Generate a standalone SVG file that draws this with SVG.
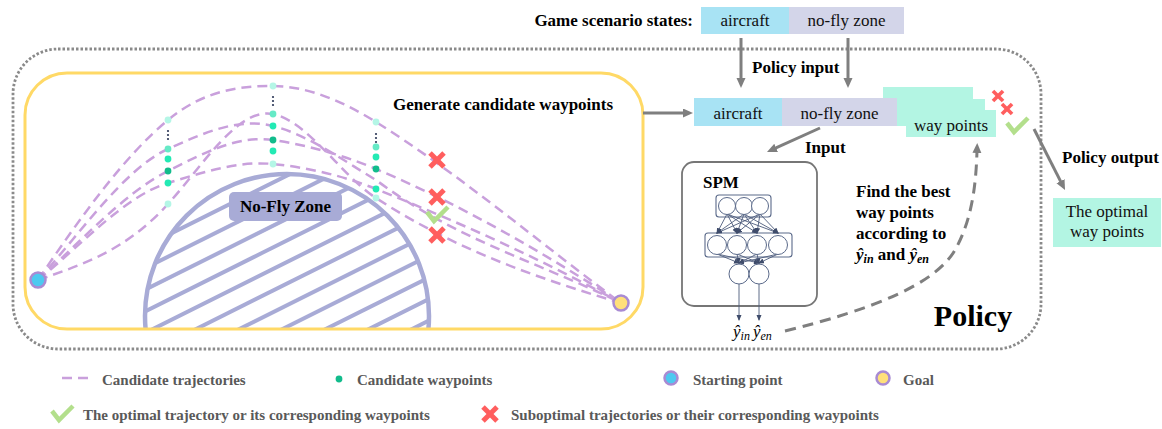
<svg xmlns="http://www.w3.org/2000/svg" width="1162" height="429" viewBox="0 0 1162 429">
  <defs>
    <style>
      text { font-family: "Liberation Serif", "Times New Roman", serif; }
      .b { font-weight: bold; }
      .lbl { font-size: 17px; fill: #000; }
      .box { font-size: 17px; fill: #111; text-anchor: middle; }
      .leg { font-size: 15px; font-weight: bold; fill: #595959; }
      .arrow { stroke: #7f7f7f; stroke-width: 3; fill: none; marker-end: url(#ah); }
      .traj { fill: none; stroke: #C9A0DC; stroke-width: 2.5; stroke-dasharray: 10 6; }
      .cross { stroke: #FF5E5E; stroke-width: 5; }
      .check { fill: none; stroke: #B3DF8C; stroke-width: 4.5; }
      .nn { stroke: #4D5B7C; stroke-width: 0.9; fill: none; marker-end: url(#sm); }
      .neu { fill: #fff; stroke: #5B6A8A; stroke-width: 1; }
      .layer { fill: none; stroke: #5B6A8A; stroke-width: 1.1; }
      .hatch { stroke: #A8ABD6; stroke-width: 4; }
      .wL { fill: #B4F6E6; } .wM { fill: #66EAC6; } .wB { fill: #23EAB4; } .wD { fill: #12BC8C; }
      .ell { fill: #2B3656; }
      .pt { stroke: #A98BD3; stroke-width: 2.5; }
    </style>
    <marker id="ah" markerUnits="userSpaceOnUse" markerWidth="12" markerHeight="10" refX="2" refY="4.5" orient="auto">
      <path d="M0,0 L10,4.5 L0,9 z" fill="#7f7f7f"/>
    </marker>
    <marker id="sm" markerUnits="userSpaceOnUse" markerWidth="8" markerHeight="6" refX="5" refY="2.5" orient="auto">
      <path d="M0,0 L6,2.5 L0,5 z" fill="#3F4C6B"/>
    </marker>
    <clipPath id="belowEdge"><rect x="100" y="150" width="400" height="179"/></clipPath>
    <clipPath id="zoneDisk"><circle cx="287" cy="316" r="142"/></clipPath>
    <g id="xmark">
      <line x1="-7" y1="-7" x2="7" y2="7"/>
      <line x1="-7" y1="7" x2="7" y2="-7"/>
    </g>
    <polyline id="vmark" points="-10,-3 -3,6 11,-8"/>
  </defs>

  <!-- policy frame -->
  <g id="policy-frame">
    <rect x="13" y="49" width="1028" height="300" rx="45" fill="none" stroke="#8a8a8a" stroke-width="2.8" stroke-dasharray="2.5 2"/>
    <text class="b" x="973" y="326" font-size="30" text-anchor="middle">Policy</text>
  </g>

  <!-- no-fly zone: hatched disk -->
  <g id="no-fly-zone">
    <g clip-path="url(#belowEdge)">
      <g clip-path="url(#zoneDisk)">
        <line class="hatch" x1="130" y1="254.1" x2="440" y2="99.1"/>
        <line class="hatch" x1="130" y1="275.7" x2="440" y2="120.7"/>
        <line class="hatch" x1="130" y1="297.3" x2="440" y2="142.3"/>
        <line class="hatch" x1="130" y1="318.9" x2="440" y2="163.9"/>
        <line class="hatch" x1="130" y1="340.5" x2="440" y2="185.5"/>
        <line class="hatch" x1="130" y1="362.1" x2="440" y2="207.1"/>
        <line class="hatch" x1="130" y1="383.7" x2="440" y2="228.7"/>
        <line class="hatch" x1="130" y1="405.3" x2="440" y2="250.3"/>
        <line class="hatch" x1="130" y1="426.9" x2="440" y2="271.9"/>
        <line class="hatch" x1="130" y1="448.5" x2="440" y2="293.5"/>
        <line class="hatch" x1="130" y1="470.1" x2="440" y2="315.1"/>
      </g>
      <circle cx="287" cy="316" r="142" fill="none" stroke="#A8ABD6" stroke-width="4.5"/>
    </g>
    <rect x="229" y="192" width="113" height="29" rx="5" fill="#A8ABD6"/>
    <text class="b lbl" x="285.5" y="212" text-anchor="middle">No-Fly Zone</text>
  </g>

  <!-- waypoint generation box -->
  <g id="gen-box">
    <rect x="25" y="73" width="618" height="256" rx="42" fill="none" stroke="#FFD966" stroke-width="3"/>
    <text class="b lbl" x="393" y="110">Generate candidate waypoints</text>
  </g>

  <!-- candidate trajectories -->
  <g id="trajectories">
    <path class="traj" d="M38,280 C81.3,216 124.7,155.8 168,120 C203,91.1 238,85.7 273,86 C307.3,86.3 341.7,100.6 376,122 C457.7,173 539.3,242.6 621,303"/>
    <path class="traj" d="M38,280 C81.3,232.3 124.7,168.5 168,149 C203,133.25 238,117.25 273,126 C307.3,134.6 341.7,159.4 376,180 C457.7,241 539.3,262.2 621,303"/>
    <path class="traj" d="M38,280 C81.3,241 124.7,192.7 168,171 C203,153.5 238,134.75 273,140 C307.3,145.15 341.7,154.6 376,169 C457.7,203.3 539.3,249.9 621,303"/>
    <path class="traj" d="M38,280 C81.3,245.3 124.7,196 168,183 C203,172.5 238,160.5 273,164 C307.3,167.4 341.7,175.3 376,189 C457.7,221.7 539.3,258.1 621,303"/>
    <path class="traj" d="M38,280 C81.3,264.8 124.7,251.7 168,204 C203,165.5 238,107 273,114 C307.3,120.9 341.7,175.7 376,198 C457.7,251.1 539.3,278.5 621,303"/>
  </g>

  <!-- candidate waypoint columns -->
  <g id="waypoints">
    <circle class="wL" cx="168" cy="120" r="3.4"/>
    <circle class="ell" cx="168" cy="131" r="1.1"/><circle class="ell" cx="168" cy="135" r="1.1"/><circle class="ell" cx="168" cy="139" r="1.1"/>
    <circle class="wM" cx="168" cy="149" r="3.4"/>
    <circle class="wB" cx="168" cy="159" r="3.4"/>
    <circle class="wD" cx="168" cy="171" r="3.4"/>
    <circle class="wB" cx="168" cy="183" r="3.4"/>
    <circle class="wL" cx="168" cy="204" r="3.4"/>

    <circle class="wL" cx="273" cy="86" r="3.4"/>
    <circle class="ell" cx="273" cy="97" r="1.1"/><circle class="ell" cx="273" cy="101" r="1.1"/><circle class="ell" cx="273" cy="105" r="1.1"/>
    <circle class="wM" cx="273" cy="114" r="3.4"/>
    <circle class="wB" cx="273" cy="126" r="3.4"/>
    <circle class="wD" cx="273" cy="140" r="3.4"/>
    <circle class="wB" cx="273" cy="151" r="3.4"/>
    <circle class="wL" cx="273" cy="164" r="3.4"/>

    <circle class="wL" cx="376" cy="122" r="3.4"/>
    <circle class="ell" cx="376" cy="134" r="1.1"/><circle class="ell" cx="376" cy="138" r="1.1"/><circle class="ell" cx="376" cy="142" r="1.1"/>
    <circle class="wM" cx="376" cy="147" r="3.4"/>
    <circle class="wB" cx="376" cy="157" r="3.4"/>
    <circle class="wD" cx="376" cy="169" r="3.4"/>
    <circle class="wB" cx="376" cy="189" r="3.4"/>
    <circle class="wL" cx="376" cy="198" r="3.4"/>
  </g>

  <!-- start and goal -->
  <g id="start-point"><circle class="pt" cx="38" cy="280" r="7.5" fill="#4DC9F0"/></g>
  <g id="goal-point"><circle class="pt" cx="621" cy="303" r="7.5" fill="#FFE07A"/></g>

  <!-- evaluation marks on trajectories -->
  <g id="marks">
    <use href="#xmark" class="cross" x="437" y="160"/>
    <use href="#xmark" class="cross" x="437" y="197"/>
    <use href="#vmark" class="check" x="437" y="215"/>
    <use href="#xmark" class="cross" x="437" y="235"/>
  </g>

  <!-- game scenario states -->
  <g id="state-boxes">
    <text class="b lbl" x="693" y="26" text-anchor="end">Game scenario states:</text>
    <rect x="701" y="7" width="88" height="27" fill="#A8E3F4"/>
    <rect x="789" y="7" width="115" height="27" fill="#D3D5E9"/>
    <text class="box" x="745" y="26">aircraft</text>
    <text class="box" x="846.5" y="26">no-fly zone</text>
  </g>

  <!-- policy input and way point stack -->
  <g id="policy-input">
    <rect x="883" y="87" width="90" height="27" fill="#B3F5E3"/>
    <rect x="694" y="98" width="88" height="28" fill="#A8E3F4"/>
    <rect x="782" y="98" width="115" height="28" fill="#D3D5E9"/>
    <text class="box" x="738" y="119">aircraft</text>
    <text class="box" x="839.5" y="119">no-fly zone</text>
    <rect x="897" y="99" width="88" height="27" fill="#B3F5E3"/>
    <rect x="906" y="110" width="90" height="27" fill="#B3F5E3"/>
    <text class="box" x="951" y="131">way points</text>
    <use href="#xmark" class="cross" transform="translate(998,96) scale(0.72)"/>
    <use href="#xmark" class="cross" transform="translate(1007,109) scale(0.72)"/>
    <use href="#vmark" class="check" x="1017" y="126"/>
  </g>

  <!-- SPM network -->
  <g id="spm">
    <rect x="682" y="162" width="135" height="144" rx="12" fill="none" stroke="#767676" stroke-width="1.8"/>
    <text class="b lbl" x="703" y="188">SPM</text>
    <rect class="layer" x="716" y="195" width="55" height="22" rx="3"/>
    <rect class="layer" x="705" y="233" width="87" height="24" rx="3"/>
    <g>
      <line class="nn" x1="727" y1="214" x2="717" y2="233"/>
      <line class="nn" x1="727" y1="214" x2="737" y2="233"/>
      <line class="nn" x1="727" y1="214" x2="757" y2="233"/>
      <line class="nn" x1="727" y1="214" x2="778" y2="233"/>
      <line class="nn" x1="744" y1="214" x2="717" y2="233"/>
      <line class="nn" x1="744" y1="214" x2="737" y2="233"/>
      <line class="nn" x1="744" y1="214" x2="757" y2="233"/>
      <line class="nn" x1="744" y1="214" x2="778" y2="233"/>
      <line class="nn" x1="760" y1="214" x2="717" y2="233"/>
      <line class="nn" x1="760" y1="214" x2="737" y2="233"/>
      <line class="nn" x1="760" y1="214" x2="757" y2="233"/>
      <line class="nn" x1="760" y1="214" x2="778" y2="233"/>
      <line class="nn" x1="717" y1="254" x2="739" y2="263"/>
      <line class="nn" x1="717" y1="254" x2="759" y2="263"/>
      <line class="nn" x1="737" y1="254" x2="739" y2="263"/>
      <line class="nn" x1="737" y1="254" x2="759" y2="263"/>
      <line class="nn" x1="757" y1="254" x2="739" y2="263"/>
      <line class="nn" x1="757" y1="254" x2="759" y2="263"/>
      <line class="nn" x1="778" y1="254" x2="739" y2="263"/>
      <line class="nn" x1="778" y1="254" x2="759" y2="263"/>
    </g>
    <circle class="neu" cx="727" cy="206" r="8.5"/>
    <circle class="neu" cx="744" cy="206" r="8.5"/>
    <circle class="neu" cx="760" cy="206" r="8.5"/>
    <circle class="neu" cx="717" cy="245" r="9.5"/>
    <circle class="neu" cx="737" cy="245" r="9.5"/>
    <circle class="neu" cx="757" cy="245" r="9.5"/>
    <circle class="neu" cx="778" cy="245" r="9.5"/>
    <circle class="neu" cx="739" cy="274" r="10"/>
    <circle class="neu" cx="759" cy="274" r="10"/>
    <line class="nn" x1="739" y1="284" x2="739" y2="320"/>
    <line class="nn" x1="759" y1="284" x2="759" y2="320"/>
    <text x="733" y="337" font-size="17" font-style="italic">ŷ<tspan font-size="12" dy="3">in</tspan></text>
    <text x="753" y="337" font-size="17" font-style="italic">ŷ<tspan font-size="12" dy="3">en</tspan></text>
  </g>

  <!-- selection rule -->
  <g id="selection-note">
    <text class="b lbl" x="856" y="197">Find the best</text>
    <text class="b lbl" x="856" y="218">way points</text>
    <text class="b lbl" x="856" y="239">according to</text>
    <text class="b lbl" x="856" y="260"><tspan font-style="italic">ŷ</tspan><tspan font-size="12" font-style="italic" dy="3">in</tspan><tspan dy="-3"> and </tspan><tspan font-style="italic">ŷ</tspan><tspan font-size="12" font-style="italic" dy="3">en</tspan></text>
  </g>

  <!-- policy output -->
  <g id="optimal-box">
    <rect x="1053" y="198" width="108" height="49" fill="#B3F5E3"/>
    <text class="box" x="1107" y="217">The optimal</text>
    <text class="box" x="1107" y="237">way points</text>
  </g>

  <!-- connectors -->
  <g id="connectors">
    <line class="arrow" x1="741" y1="38" x2="741" y2="80"/>
    <line class="arrow" x1="848" y1="38" x2="848" y2="80"/>
    <line class="arrow" x1="643" y1="113" x2="685" y2="113"/>
    <line class="arrow" x1="820" y1="128" x2="774.3" y2="148.7"/>
    <line class="arrow" x1="1034" y1="129" x2="1061.4" y2="182.9"/>
    <path class="arrow" stroke-dasharray="11 7" d="M785,331 C870,310 935,285 955,250 C972,220 976,185 977,151"/>
    <text class="b lbl" x="752" y="73">Policy input</text>
    <text class="b lbl" x="805" y="153">Input</text>
    <text class="b lbl" x="1062" y="163">Policy output</text>
  </g>

  <!-- legend -->
  <g id="legend">
    <line x1="62" y1="378" x2="88" y2="378" class="traj"/>
    <text class="leg" x="102" y="385">Candidate trajectories</text>
    <circle class="wD" cx="339" cy="379" r="3.4"/>
    <text class="leg" x="357" y="385">Candidate waypoints</text>
    <circle class="pt" cx="671" cy="378" r="6.5" fill="#4DC9F0"/>
    <text class="leg" x="693" y="385">Starting point</text>
    <circle class="pt" cx="883" cy="378" r="6.5" fill="#FFE07A"/>
    <text class="leg" x="903" y="385">Goal</text>
    <use href="#vmark" class="check" x="62" y="414"/>
    <text class="leg" x="83" y="420">The optimal trajectory or its corresponding waypoints</text>
    <use href="#xmark" class="cross" x="490" y="414"/>
    <text class="leg" x="511" y="420">Suboptimal trajectories or their corresponding waypoints</text>
  </g>
</svg>
